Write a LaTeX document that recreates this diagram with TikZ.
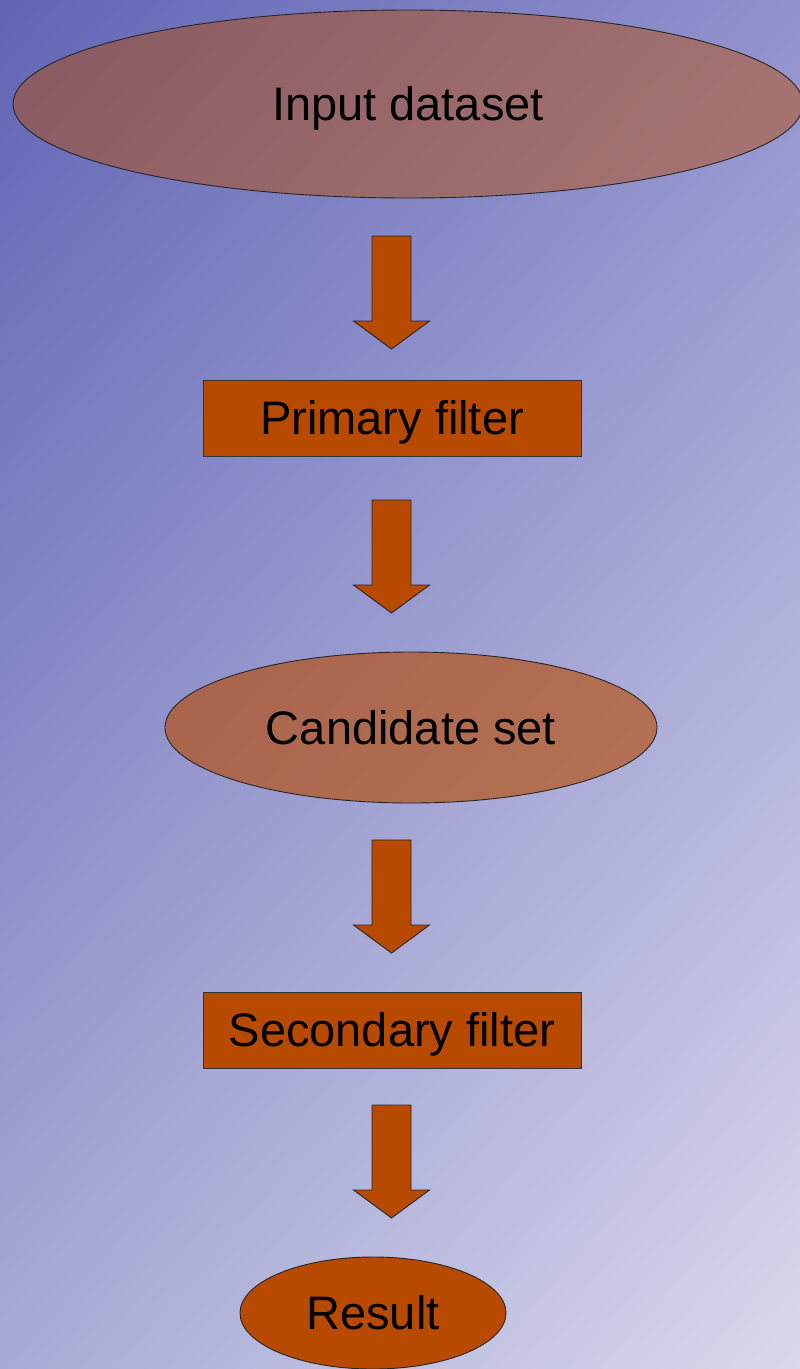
\documentclass[tikz,border=0pt]{standalone}
\usepackage{fontspec}
\setmainfont{Liberation Sans}
\usetikzlibrary{shapes.geometric,shadings}
\definecolor{bgTL}{RGB}{97,101,180}
\definecolor{bgTR}{RGB}{145,146,205}
\definecolor{bgBL}{RGB}{168,170,214}
\definecolor{bgBR}{RGB}{216,216,236}
\definecolor{rust}{RGB}{184,74,0}
\tikzset{
  box/.style={draw=black!80, line width=0.9pt, fill=rust, rectangle,
    minimum width=378pt, minimum height=76pt, inner sep=0pt},
  oval/.style={draw=black!85, line width=0.9pt, fill=rust, ellipse, inner sep=0pt, text opacity=1},
  lbl/.style={font=\fontsize{47pt}{52pt}\selectfont, text=black,
    text height=33.7pt, text depth=0pt},
  downarrow/.pic={
    \filldraw[draw=black!85, line width=0.9pt, fill=rust]
      (-19.5,0) -- (19.5,0) -- (19.5,85) -- (38,85) -- (0,113)
      -- (-38,85) -- (-19.5,85) -- cycle;
  }
}
\begin{document}
\begin{tikzpicture}[x=1pt, y=-1pt]
\useasboundingbox (0,0) rectangle (800,1369);
\shade[upper left=bgTL, upper right=bgTR, lower left=bgBL, lower right=bgBR]
  (0,0) rectangle (800,1369);
\begin{scope}
\clip (0,0) rectangle (800,1369);
\node[oval, lbl, fill opacity=0.45, minimum width=790pt, minimum height=188pt]
  (input) at (408,104) {Input dataset};
\pic (a1) at (391.5,236) {downarrow};
\node[box, lbl] (primary) at (392,418) {Primary filter};
\pic (a2) at (391.5,500) {downarrow};
\node[oval, lbl, fill opacity=0.62, minimum width=492pt, minimum height=151pt]
  (cand) at (411,727.5) {Candidate set};
\pic (a3) at (391.5,840) {downarrow};
\node[box, lbl] (secondary) at (392,1030) {Secondary filter};
\pic (a4) at (391.5,1105) {downarrow};
\node[oval, lbl, minimum width=266pt, minimum height=112pt]
  (result) at (373,1313) {Result};
\end{scope}
\end{tikzpicture}
\end{document}
